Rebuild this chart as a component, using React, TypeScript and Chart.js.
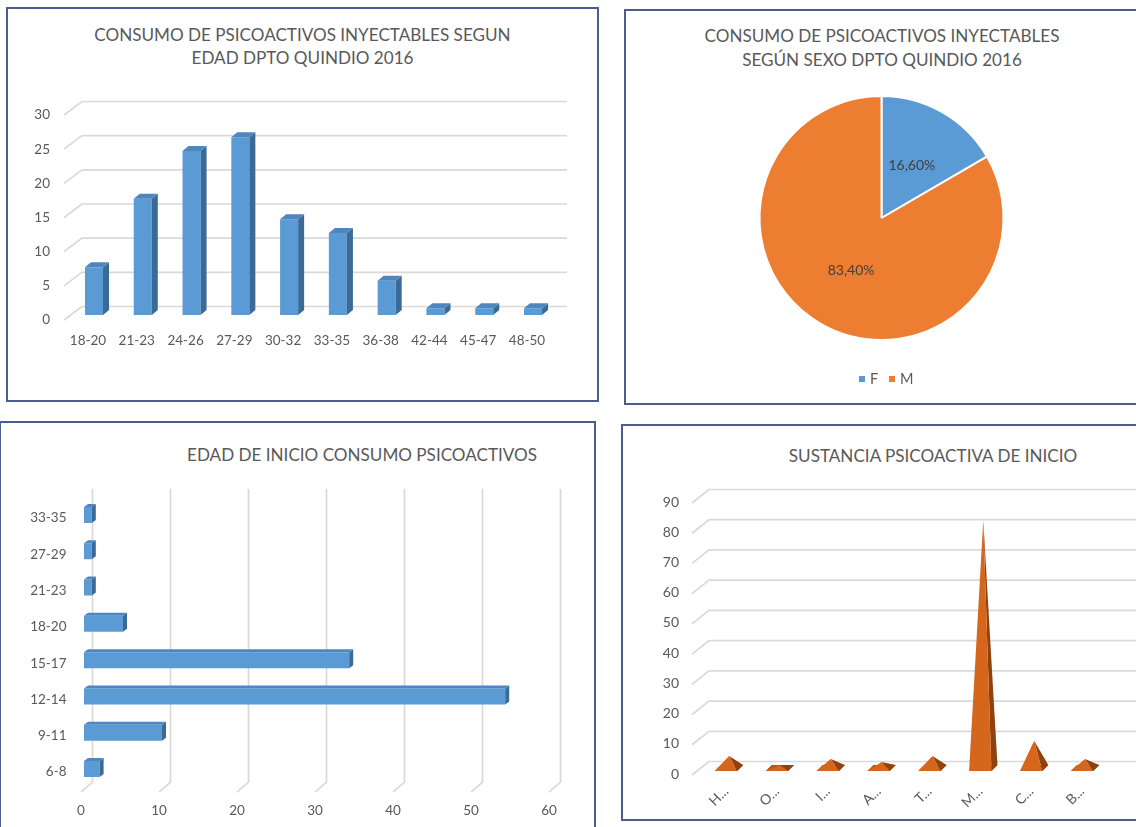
import React, { useEffect, useRef } from "react";
import { Chart, registerables } from "chart.js";

Chart.register(...registerables);

// ---------- data ----------
const edadLabels = ["18-20", "21-23", "24-26", "27-29", "30-32", "33-35", "36-38", "42-44", "45-47", "48-50"];
const edadValues = [7, 17, 24, 26, 14, 12, 5, 1, 1, 1];
const edadAxisMax = 30;
const edadAxisStep = 5;

const sexoLabels = ["F", "M"];
const sexoValues = [16.6, 83.4];
const sexoValueTexts = ["16,60%", "83,40%"];

const inicioLabels = ["6-8", "9-11", "12-14", "15-17", "18-20", "21-23", "27-29", "33-35"];
const inicioValues = [2, 10, 54, 34, 5, 1, 1, 1];
const inicioAxisMax = 60;
const inicioAxisStep = 10;

const sustanciaLabels = ["H...", "O...", "I...", "A...", "T...", "M...", "C...", "B..."];
const sustanciaValues = [4, 1, 3, 2, 4, 82, 9, 3];
const sustanciaAxisMax = 90;
const sustanciaAxisStep = 10;

// ---------- styles ----------
const FONT = "Lato, 'Open Sans', sans-serif";
const TEXT = "#595959";
const GRID = "#D9D9D9";
const BLUE = "#5B9BD5";
const BLUE_TOP = "#4E86BD";
const BLUE_SIDE = "#3C6A96";
const ORANGE = "#ED7D31";
const PYR_FRONT = "#D6661C";
const PYR_SIDE = "#8F410E";
const PYR_BASE = "#B8560F";
const BORDER = "#4B5D8F";

type Box = { left: number; top: number; width: number; height: number };

function poly(ctx: CanvasRenderingContext2D, pts: number[][], color: string) {
  ctx.beginPath();
  ctx.moveTo(pts[0][0], pts[0][1]);
  for (let i = 1; i < pts.length; i++) ctx.lineTo(pts[i][0], pts[i][1]);
  ctx.closePath();
  ctx.fillStyle = color;
  ctx.fill();
}

// perspective horizontal grid lines (value axis = y)
function gridY(o: { x0: number; y0: number; x1: number; y1: number; extra: number | null }) {
  return {
    id: "gridY3d",
    beforeDatasetsDraw(chart: any) {
      const { ctx, chartArea: ca, scales } = chart;
      const y = scales.y;
      ctx.save();
      ctx.strokeStyle = GRID;
      ctx.lineWidth = 1.7;
      const xEnd = o.extra === null ? chart.width : ca.right + o.extra;
      y.ticks.forEach((t: any) => {
        const py = y.getPixelForValue(t.value);
        ctx.beginPath();
        ctx.moveTo(ca.left + o.x0, py + o.y0);
        ctx.lineTo(ca.left + o.x1, py + o.y1);
        ctx.lineTo(xEnd, py + o.y1);
        ctx.stroke();
      });
      ctx.restore();
    },
  };
}

// perspective vertical grid lines (value axis = x)
const gridX3d = {
  id: "gridX3d",
  beforeDatasetsDraw(chart: any) {
    const { ctx, chartArea: ca, scales } = chart;
    const x = scales.x;
    ctx.save();
    ctx.strokeStyle = GRID;
    ctx.lineWidth = 1.7;
    x.ticks.forEach((t: any) => {
      const px = x.getPixelForValue(t.value);
      ctx.beginPath();
      ctx.moveTo(px + 8.5, ca.top - 8);
      ctx.lineTo(px + 8.5, ca.bottom - 5);
      ctx.lineTo(px - 3, ca.bottom + 5);
      ctx.stroke();
    });
    ctx.restore();
  },
};

const bar3dV = {
  id: "bar3dV",
  afterDatasetsDraw(chart: any) {
    const ctx = chart.ctx;
    const dx = 6, dy = 5;
    chart.getDatasetMeta(0).data.forEach((el: any) => {
      const { x, y, base, width } = el.getProps(["x", "y", "base", "width"], true);
      const l = x - width / 2, r = x + width / 2;
      poly(ctx, [[r, y], [r + dx, y - dy], [r + dx, base - dy], [r, base]], BLUE_SIDE);
      poly(ctx, [[l, y], [l + dx, y - dy], [r + dx, y - dy], [r, y]], BLUE_TOP);
    });
  },
};

const bar3dH = {
  id: "bar3dH",
  afterDatasetsDraw(chart: any) {
    const ctx = chart.ctx;
    const dx = 4, dy = 3;
    chart.getDatasetMeta(0).data.forEach((el: any) => {
      const { x, y, base, height } = el.getProps(["x", "y", "base", "height"], true);
      const t = y - height / 2, b = y + height / 2;
      poly(ctx, [[x, t], [x + dx, t - dy], [x + dx, b - dy], [x, b]], BLUE_SIDE);
      poly(ctx, [[base, t], [base + dx, t - dy], [x + dx, t - dy], [x, t]], BLUE_TOP);
    });
  },
};

const pyramids = {
  id: "pyramids",
  afterDatasetsDraw(chart: any) {
    const ctx = chart.ctx;
    const dx = 6, dy = 6;
    chart.getDatasetMeta(0).data.forEach((el: any) => {
      const { x, y, base, width } = el.getProps(["x", "y", "base", "width"], true);
      const l = x - width / 2, r = x + width / 2;
      poly(ctx, [[l, base], [r, base], [r + dx, base - dy], [l + dx, base - dy]], PYR_BASE);
      const apex = [x + dx / 2, y - dy / 2];
      poly(ctx, [[r, base], [r + dx, base - dy], apex], PYR_SIDE);
      poly(ctx, [[l, base], [r, base], apex], PYR_FRONT);
    });
  },
};

const pieLabels = {
  id: "pieLabels",
  afterDatasetsDraw(chart: any) {
    const ctx = chart.ctx;
    ctx.save();
    ctx.font = `14px ${FONT}`;
    ctx.fillStyle = "#404040";
    ctx.textAlign = "center";
    ctx.textBaseline = "middle";
    chart.getDatasetMeta(0).data.forEach((arc: any, i: number) => {
      const p = arc.tooltipPosition(true);
      ctx.fillText(sexoValueTexts[i], p.x, p.y);
    });
    ctx.restore();
  },
};

const noPlugins = { legend: { display: false }, tooltip: { enabled: false }, title: { display: false } };
const tickFont = { family: FONT, size: 13.5 };

// ---------- configs ----------
function edadConfig(): any {
  // canvas 587 x 389
  return {
    type: "bar",
    data: {
      labels: edadLabels,
      datasets: [{ data: edadValues, backgroundColor: BLUE, barPercentage: 0.37, categoryPercentage: 1 }],
    },
    options: {
      responsive: false,
      animation: false,
      layout: { padding: { left: 20, right: 38.6, top: 100, bottom: 20 } },
      plugins: noPlugins,
      scales: {
        x: {
          grid: { display: false, drawTicks: false },
          border: { display: false },
          ticks: { color: TEXT, font: tickFont, padding: 18, labelOffset: -6, autoSkip: false, maxRotation: 0 },
          afterFit: (s: any) => { s.height = 64; },
        },
        y: {
          min: 0,
          max: edadAxisMax,
          grid: { display: false, drawTicks: false },
          border: { display: false },
          ticks: { stepSize: edadAxisStep, color: TEXT, font: tickFont, padding: 19.6, labelOffset: 5 },
          afterFit: (s: any) => { s.width = 40.6; },
        },
      },
    },
    plugins: [gridY({ x0: -5.6, y0: 5, x1: 12.4, y1: -8.5, extra: 9.6 }), bar3dV],
  };
}

function sexoConfig(): any {
  // canvas 509 x 390
  return {
    type: "pie",
    data: {
      labels: sexoLabels,
      datasets: [{ data: sexoValues, backgroundColor: [BLUE, ORANGE], borderColor: "#ffffff", borderWidth: 2 }],
    },
    options: {
      responsive: false,
      animation: false,
      layout: { padding: { left: 0, right: 0, top: 83, bottom: 61 } },
      plugins: noPlugins,
    },
    plugins: [pieLabels],
  };
}

function inicioConfig(): any {
  // canvas 591 x 403
  return {
    type: "bar",
    data: {
      labels: inicioLabels,
      datasets: [{ data: inicioValues, backgroundColor: BLUE, barPercentage: 0.44, categoryPercentage: 1 }],
    },
    options: {
      indexAxis: "y",
      responsive: false,
      animation: false,
      layout: { padding: { left: 10, right: 41, top: 72.85, bottom: 5 } },
      plugins: noPlugins,
      scales: {
        x: {
          min: 0,
          max: inicioAxisMax,
          grid: { display: false, drawTicks: false },
          border: { display: false },
          ticks: { stepSize: inicioAxisStep, color: TEXT, font: tickFont, padding: 15, labelOffset: -3, maxRotation: 0 },
          afterFit: (s: any) => { s.height = 403 - 5 - 363.15; },
        },
        y: {
          reverse: true,
          grid: { display: false, drawTicks: false },
          border: { display: false },
          ticks: { color: TEXT, font: tickFont, padding: 17.5, labelOffset: 3, autoSkip: false },
          afterFit: (s: any) => { s.width = 72; },
        },
      },
    },
    plugins: [gridX3d, bar3dH],
  };
}

function sustanciaConfig(): any {
  // canvas 512 x 391
  return {
    type: "bar",
    data: {
      labels: sustanciaLabels,
      datasets: [{ data: sustanciaValues, backgroundColor: "rgba(0,0,0,0)", borderWidth: 0, barPercentage: 0.44, categoryPercentage: 1 }],
    },
    options: {
      responsive: false,
      animation: false,
      layout: { padding: { left: 10, right: 28.6, top: 72, bottom: 5 } },
      plugins: noPlugins,
      scales: {
        x: {
          grid: { display: false, drawTicks: false },
          border: { display: false },
          ticks: { color: TEXT, font: { family: FONT, size: 14 }, padding: 12, minRotation: 45, maxRotation: 45, autoSkip: false },
          afterFit: (s: any) => { s.height = 42; },
        },
        y: {
          min: 0,
          max: sustanciaAxisMax,
          grid: { display: false, drawTicks: false },
          border: { display: false },
          ticks: { stepSize: sustanciaAxisStep, color: TEXT, font: { family: FONT, size: 14 }, padding: 21.6, labelOffset: 3 },
          afterFit: (s: any) => { s.width = 66.6; },
        },
      },
    },
    plugins: [gridY({ x0: -8.6, y0: 4, x1: 8.4, y1: -9.5, extra: null }), pyramids],
  };
}

function ChartCanvas({ box, make }: { box: Box; make: () => any }) {
  const ref = useRef<HTMLCanvasElement | null>(null);
  useEffect(() => {
    const c = ref.current;
    if (!c) return;
    const chart = new Chart(c, make());
    return () => chart.destroy();
  }, []);
  return (
    <canvas
      ref={ref}
      width={box.width}
      height={box.height}
      style={{ position: "absolute", left: box.left, top: box.top, width: box.width, height: box.height }}
    />
  );
}

function Panel({ left, top, width, height }: Box) {
  return (
    <div
      style={{
        position: "absolute",
        left,
        top,
        width,
        height,
        border: `2px solid ${BORDER}`,
        boxSizing: "border-box",
      }}
    />
  );
}

function Title({ cx, top, lines, lh }: { cx: number; top: number; lines: string[]; lh: number }) {
  return (
    <div
      style={{
        position: "absolute",
        left: cx - 300,
        top,
        width: 600,
        textAlign: "center",
        color: TEXT,
        fontFamily: FONT,
        fontSize: 17.1,
        lineHeight: `${lh}px`,
        whiteSpace: "nowrap",
      }}
    >
      {lines.map((l, i) => (
        <div key={i}>{l}</div>
      ))}
    </div>
  );
}

export default function App() {
  return (
    <div
      style={{
        position: "absolute",
        left: 0,
        top: 0,
        width: 1136,
        height: 827,
        overflow: "hidden",
        background: "#ffffff",
        fontFamily: FONT,
      }}
    >
      <Panel left={6} top={7} width={593} height={395} />
      <Panel left={624} top={9} width={530} height={396} />
      <Panel left={-1} top={421} width={597} height={430} />
      <Panel left={621} top={424} width={530} height={397} />

      <Title cx={302.5} top={23} lines={["CONSUMO DE PSICOACTIVOS INYECTABLES SEGUN", "EDAD DPTO QUINDIO 2016"]} lh={23} />
      <Title cx={882} top={24} lines={["CONSUMO DE PSICOACTIVOS INYECTABLES", "SEGÚN SEXO DPTO QUINDIO 2016"]} lh={24} />
      <Title cx={362} top={443} lines={["EDAD DE INICIO CONSUMO PSICOACTIVOS"]} lh={23} />
      <Title cx={933} top={444} lines={["SUSTANCIA PSICOACTIVA DE INICIO"]} lh={23} />

      <ChartCanvas box={{ left: 9, top: 10, width: 587, height: 389 }} make={edadConfig} />
      <ChartCanvas box={{ left: 627, top: 12, width: 509, height: 390 }} make={sexoConfig} />
      <ChartCanvas box={{ left: 2, top: 424, width: 591, height: 403 }} make={inicioConfig} />
      <ChartCanvas box={{ left: 624, top: 427, width: 512, height: 391 }} make={sustanciaConfig} />

      {/* legend of the pie chart */}
      <div style={{ position: "absolute", left: 859, top: 376, width: 6, height: 6, background: BLUE }} />
      <div style={{ position: "absolute", left: 870, top: 370, color: TEXT, fontSize: 14.5, lineHeight: "18px" }}>F</div>
      <div style={{ position: "absolute", left: 889, top: 376, width: 6, height: 6, background: ORANGE }} />
      <div style={{ position: "absolute", left: 900, top: 370, color: TEXT, fontSize: 14.5, lineHeight: "18px" }}>M</div>
    </div>
  );
}
